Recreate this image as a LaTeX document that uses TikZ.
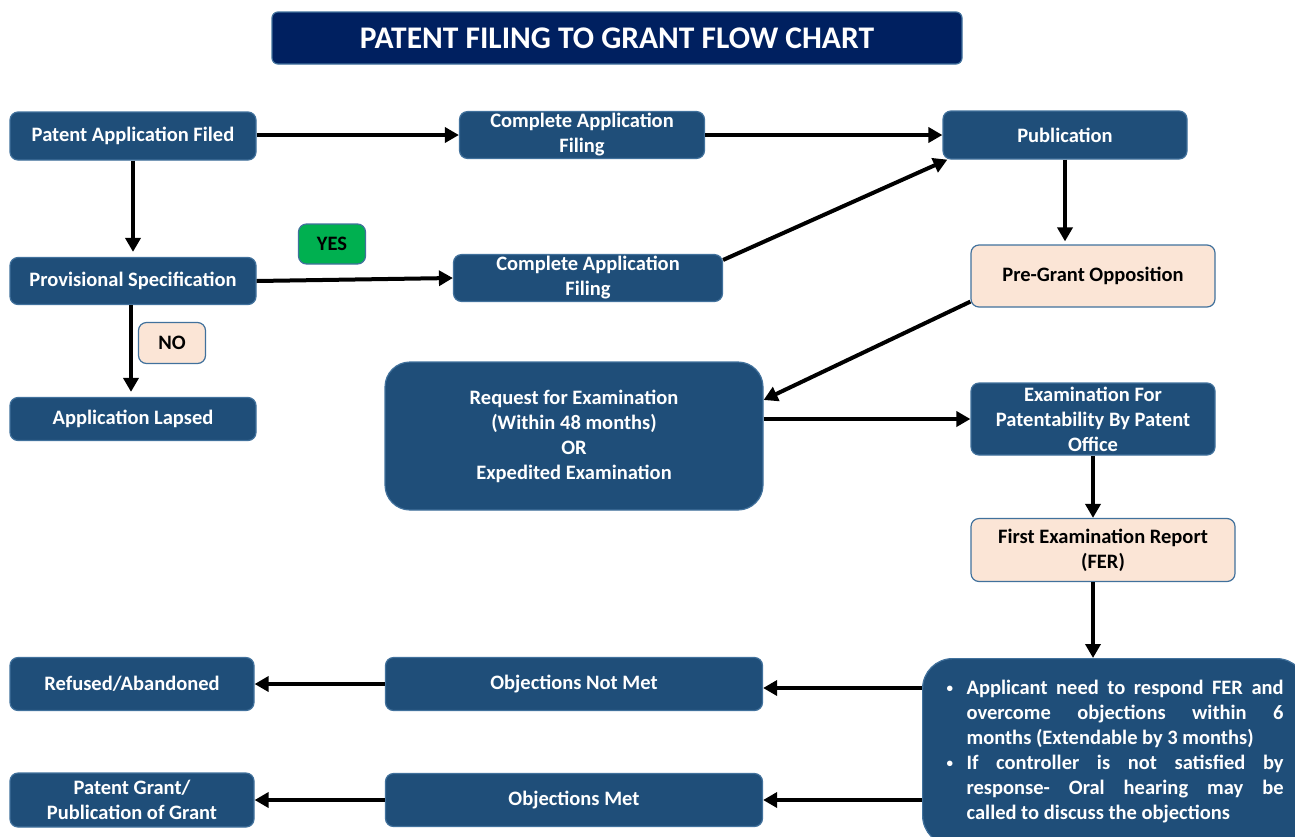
\documentclass[tikz,border=0pt]{standalone}
\usepackage{fontspec}
\setmainfont{Carlito}
\usetikzlibrary{arrows.meta}
\definecolor{boxblue}{HTML}{1F4E79}
\definecolor{edgeblue}{HTML}{41719C}
\definecolor{titleblue}{HTML}{002060}
\definecolor{peach}{HTML}{FBE5D6}
\definecolor{yesgreen}{HTML}{00B050}
\newcommand{\bulletitem}[1]{\hangindent=21pt\hangafter=1\noindent\makebox[21pt][l]{\hspace{1pt}\raisebox{2pt}{\fontsize{13}{13}\selectfont\textbullet}}#1\par}
\begin{document}
\begin{tikzpicture}[x=1pt,y=-1pt,
  font=\fontsize{20.5}{25}\selectfont\bfseries,
  box/.style={draw=edgeblue, line width=1.2pt, rounded corners=8pt, align=center, inner sep=2pt},
  bluebox/.style={box, fill=boxblue, text=white},
  peachbox/.style={box, fill=peach, text=black},
  arr/.style={-{Triangle[length=14pt,width=15pt]}, line width=4pt}]
\useasboundingbox (0,0) rectangle (1295,836);

\node[bluebox, fill=titleblue, rounded corners=6pt, minimum width=690pt, minimum height=52pt, font=\fontsize{31.5}{36}\selectfont\bfseries] (title) at (617,38) {PATENT FILING TO GRANT FLOW CHART};

\node[bluebox, minimum width=246pt, minimum height=48pt] (paf) at (133,136) {Patent Application Filed};
\node[bluebox, minimum width=245pt, minimum height=45pt] (caf1) at (582,135) {Complete Application\\ Filing};
\node[bluebox, minimum width=244pt, minimum height=48pt] (pub) at (1065,135) {Publication};
\node[bluebox, minimum width=246pt, minimum height=47pt] (prov) at (133,281) {Provisional Specification};
\node[box, fill=yesgreen, minimum width=67pt, minimum height=40pt] (yes) at (332,244) {YES};
\node[bluebox, minimum width=269pt, minimum height=44pt] (caf2) at (588,278) {Complete Application\\ Filing};
\node[peachbox, minimum width=244pt, minimum height=62pt] (pre) at (1093,276) {Pre-Grant Opposition};
\node[peachbox, minimum width=67pt, minimum height=41pt] (no) at (172,343) {NO};
\node[bluebox, minimum width=246pt, minimum height=43pt] (lapsed) at (133,419) {Application Lapsed};
\node[bluebox, rounded corners=25pt, minimum width=378pt, minimum height=148pt] (req) at (574,436) {Request for Examination\\ (Within 48 months)\\ OR\\ Expedited Examination};
\node[bluebox, minimum width=244pt, minimum height=72pt] (exam) at (1093,419) {Examination For\\ Patentability By Patent\\ Office};
\node[peachbox, minimum width=264pt, minimum height=63pt] (fer) at (1103,550) {First Examination Report\\ (FER)};
\node[bluebox, rounded corners=30pt, anchor=north west, text width=338pt, align=justify, inner xsep=23pt, inner ysep=22pt] (resp) at (922,658) {\bulletitem{Applicant need to respond FER and\linebreak overcome objections within 6\linebreak months (Extendable by 3 months)}\bulletitem{If controller is not satisfied by\linebreak response- Oral hearing may be\linebreak called to discuss the objections}};
\node[bluebox, minimum width=377pt, minimum height=53pt] (onm) at (574,684) {Objections Not Met};
\node[bluebox, minimum width=244pt, minimum height=53pt] (refused) at (132,684) {Refused/Abandoned};
\node[bluebox, minimum width=377pt, minimum height=53pt] (om) at (574,800) {Objections Met};
\node[bluebox, minimum width=244pt, minimum height=54pt] (grant) at (132,800) {Patent Grant/\\ Publication of Grant};

\draw[arr] ([yshift=1pt]paf.east) -- ([yshift=1pt]paf.east -| caf1.west);
\draw[arr] (caf1.east) -- (pub.west);
\draw[arr, shorten >=5pt] (paf.south) -- (prov.north);
\draw[arr] (prov.east) -- (caf2.west);
\draw[arr, shorten >=5pt] ([xshift=-2pt]prov.south) -- ([xshift=-2pt]lapsed.north);
\draw[arr] ([yshift=-6pt]caf2.north east) -- ([xshift=5pt]pub.south west);
\draw[arr, shorten >=3pt] (pub.south) -- (pre.north -| pub.south);
\draw[arr] ([yshift=6pt]pre.south west) -- ([yshift=36pt]req.east);
\draw[arr] (req.east |- exam.west) -- (exam.west);
\draw[arr] (exam.south) -- (exam.south |- fer.north);
\draw[arr] (exam.south |- fer.south) -- (exam.south |- resp.north);
\draw[arr] ([yshift=-4pt]onm.east -| resp.west) -- ([yshift=-4pt]onm.east);
\draw[arr] (om.east -| resp.west) -- (om.east);
\draw[arr] (onm.west) -- (refused.east);
\draw[arr] (om.west) -- (grant.east);
\end{tikzpicture}
\end{document}
